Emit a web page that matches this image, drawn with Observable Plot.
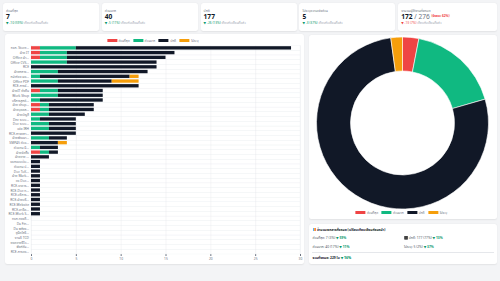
<!DOCTYPE html>
<html><head><meta charset="utf-8">
<script src="https://cdn.jsdelivr.net/npm/d3@7"></script>
<script src="https://cdn.jsdelivr.net/npm/@observablehq/plot@0.6"></script>
<style>
html,body{margin:0;padding:0;}
body{width:500px;height:281px;background:#f3f4f6;position:relative;overflow:hidden;font-family:"Noto Sans","Noto Sans Thai","DejaVu Sans",sans-serif;}
.card{position:absolute;background:#fff;border-radius:2.5px;box-shadow:0 0.5px 1.5px rgba(0,0,0,0.07);}
.kl{position:absolute;left:3px;top:5px;font-size:3.4px;color:#6b7280;white-space:nowrap;}
.kv{position:absolute;left:3px;top:9.5px;font-size:6.6px;font-weight:700;color:#111827;white-space:nowrap;line-height:1.2;}
.ks{position:absolute;left:3px;top:18.3px;font-size:3.2px;color:#059669;white-space:nowrap;}
.ks .g{color:#9ca3af;}
.leg{position:absolute;display:flex;align-items:center;font-size:3.2px;color:#6b7280;white-space:nowrap;transform:translateX(-50%);}
.leg span.sw{display:inline-block;width:10px;height:2.7px;margin-right:1.5px;}
.leg span.t{margin-right:3.5px;}
.sum{position:absolute;font-size:3.3px;color:#4b5563;white-space:nowrap;}
.sum b.d{color:#059669;}
</style></head>
<body>
<div id="root"></div>
<script>
// ---------- data ----------
const cats = ["ด่วนที่สุด", "ด่วนมาก", "ปกติ", "ไม่ระบุ"];
const catColors = ["#ef4444", "#10b981", "#111827", "#f59e0b"];
const names = [
  "หจก. Store...", "ฝ่าย IT", "Office ฝ่า...", "Office CVS...", "RCE",
  "ฝ่ายกลาง...", "หน้าห้อง ผอ...", "Office PDF", "RCE-การจั...", "ฝ่ายIT ยั่งยืน",
  "Work Shop", "บริการลูกค้...", "ฝ่าย shop...", "ฝ่ายบุคคล...", "ฝ่ายบัญชี",
  "Dev ระบบ...", "Doc ระบบ...", "แจ้ง IRH", "RCE-การตลา...", "ฝ่ายพัฒนา...",
  "SMP45 ตัวแ...", "ตัวแทน นิ...", "ฝ่ายจัดซื้อ", "ฝ่ายขาย ...", "ออกแบบเว็บ...",
  "ตัวแทน ป...", "Doc ToK...", "ฝ่าย Mark...", "ขอ Doc...", "RCE-อาคาร...",
  "RCE-Doc ท...", "RCE-บริหาร...", "RCE-ฝ่ายบริ...", "RCE-Website", "RCE-คำอีค...",
  "RCE-Work S...", "หจก.ทองดี...", "Da Fin...", "Da พลังง...", "ยูนิตโลจิ...",
  "งานอิ TCD", "ยอดขายรีวิว...", "ฟังก์ชั่น...", "RCE-การขอ..."
];
const redVals    = [1,1,1,0,0, 0,0,0,0,1, 0,0,1,1,0, 0,0,0,0,0, 0,0,1,0,0, 0,0,0,0,0, 0,0,0,0,0, 0,0,0,0,0, 0,0,0,0];
const greenVals  = [4,3,3,4,0, 3,1,3,0,2, 3,1,1,1,2, 1,2,2,0,2, 0,1,1,0,0, 0,0,0,0,0, 0,0,0,0,0, 0,0,0,0,0, 0,0,0,0];
const blackVals  = [24,12,11,10,14, 10,10,6,12,5, 5,7,5,5,4, 4,3,3,5,2, 3,2,1,2,1, 1,1,1,1,1, 1,1,1,1,1, 1,0,0,0,0, 0,0,0,0];
const orangeVals = [0,0,0,0,0, 0,1,3,0,0, 0,0,0,0,0, 0,0,0,0,0, 1,0,0,0,0, 0,0,0,0,0, 0,0,0,0,0, 0,0,0,0,0, 0,0,0,0];
const xTicks = [0, 5, 10, 15, 20, 25, 30];
const totals = [7, 40, 177, 5];
const totalPct = ["3%", "17%", "77%", "2%"];
const changePct = ["59%", "11%", "13%", "37%"];
const changeAbs = [-10, -5, -26, -3];
const grandTotal = 229, grandChange = "16%";
const users = 172, usersAll = 276, usersPct = "62%", usersChange = "-13 (7%)";
const kpiLabels = ["ด่วนที่สุด", "ด่วนมาก", "ปกติ", "ไม่ระบุความเร่งด่วน", "จำนวนผู้ใช้งานทั้งหมด"];

// ---------- helpers ----------
const root = document.getElementById("root");
function el(tag, cls, style, html) {
  const e = document.createElement(tag);
  if (cls) e.className = cls;
  if (style) e.setAttribute("style", style);
  if (html != null) e.innerHTML = html;
  return e;
}
const FONT = '"Noto Sans","Noto Sans Thai","DejaVu Sans",sans-serif';

// ---------- KPI cards ----------
const cardX = [3, 101.8, 200.6, 299.4, 398.2];
const cardW = [96, 96, 96, 96, 98.8];
for (let i = 0; i < 5; i++) {
  const c = el("div", "card", `left:${cardX[i]}px;top:3px;width:${cardW[i]}px;height:27.5px;`);
  c.appendChild(el("div", "kl", null, kpiLabels[i]));
  if (i < 4) {
    c.appendChild(el("div", "kv", null, String(totals[i])));
    c.appendChild(el("div", "ks", null, `▼ ${changeAbs[i]} (${changePct[i]}) <span class="g">เทียบกับเดือนที่แล้ว</span>`));
  } else {
    c.appendChild(el("div", "kv", null, `${users}<span style="font-weight:400;color:#6b7280"> / ${usersAll}</span> <span style="font-size:3.2px;color:#ef4444;vertical-align:middle">(ร้อยละ ${usersPct})</span>`));
    c.appendChild(el("div", "ks", "color:#ef4444", `▼ ${usersChange} <span class="g">เทียบกับเดือนที่แล้ว</span>`));
  }
  root.appendChild(c);
}

// ---------- left card : stacked bars ----------
const leftCard = el("div", "card", "left:4.5px;top:34px;width:299.5px;height:230px;");
root.appendChild(leftCard);
function legend(x, y) {
  const l = el("div", "leg", `left:${x}px;top:${y}px;`);
  cats.forEach((c, i) => {
    l.appendChild(el("span", "sw", `background:${catColors[i]}`));
    l.appendChild(el("span", "t", null, c));
  });
  return l;
}
root.appendChild(legend(154.5, 38.8));

const series = [redVals, greenVals, blackVals, orangeVals];
const long = [];
cats.forEach((cat, ci) => names.forEach((n, ni) => {
  if (series[ci][ni] > 0) long.push({name: n, cat, value: series[ci][ni]});
}));

const bar = Plot.plot({
  width: 300, height: 218,
  marginLeft: 26, marginRight: 5, marginTop: 1.5, marginBottom: 8,
  style: {fontSize: "3.3px", fontFamily: FONT, color: "#6b7280", background: "transparent", overflow: "visible"},
  x: {domain: [0, 30], ticks: xTicks, tickSize: 2, tickPadding: 1, label: null},
  y: {domain: names, padding: 0, tickSize: 0, tickPadding: 2.5, label: null},
  color: {domain: cats, range: catColors},
  marks: [
    Plot.barX(names, {y: d => d, x1: 0, x2: 30, fill: "none", stroke: "#eef0f3", strokeWidth: 0.35}),
    Plot.ruleX(xTicks, {stroke: "#e5e7eb", strokeWidth: 0.4}),
    Plot.barX(long, Plot.stackX({y: "name", x: "value", fill: "cat", order: cats, insetTop: 0.7, insetBottom: 0.7}))
  ]
});
bar.style.position = "absolute";
bar.style.left = "4.5px";
bar.style.top = "43.5px";
root.appendChild(bar);

// ---------- right card : donut ----------
root.appendChild(el("div", "card", "left:309px;top:35px;width:188px;height:184px;"));
const donutData = cats.map((c, i) => ({cat: c, value: totals[i]}));
const donut = Plot.plot({
  width: 188, height: 176, margin: 0,
  style: {background: "transparent", overflow: "visible"},
  color: {domain: cats, range: catColors},
  marks: [
    (index, scales, values, dims) => {
      const color = (scales && scales.color) ? scales.color : d3.scaleOrdinal(cats, catColors);
      const cx = dims.width / 2 - 0.5, cy = 88;
      const pie = d3.pie().sort(null).value(d => d.value)(donutData);
      const arc = d3.arc().innerRadius(52).outerRadius(86);
      const g = d3.create("svg:g").attr("transform", `translate(${cx},${cy})`);
      g.selectAll("path").data(pie).join("path")
        .attr("d", arc).attr("fill", d => color(d.data.cat))
        .attr("stroke", "#fff").attr("stroke-width", 0.6);
      return g.node();
    }
  ]
});
donut.style.position = "absolute";
donut.style.left = "309px";
donut.style.top = "35px";
root.appendChild(donut);
root.appendChild(legend(403, 210.8));

// ---------- summary card ----------
root.appendChild(el("div", "card", "left:309px;top:223.5px;width:188px;height:40.5px;"));
root.appendChild(el("div", "sum", "left:312.5px;top:227px;font-weight:700;color:#111827",
  `<span style="display:inline-block;width:3px;height:3px;background:linear-gradient(90deg,#60a5fa 33%,#fbbf24 33% 66%,#f87171 66%);vertical-align:-0.3px;margin-right:1.5px"></span>จำนวนเอกสารทั้งหมด (เปรียบเทียบเดือนก่อนหน้า)`));
const pos = [[312.5, 235.2], [312.5, 243.5], [404, 235.2], [404, 243.5]];
const order = [0, 1, 2, 3];
order.forEach((ci, k) => {
  const [x, y] = pos[k];
  const icon = ci === 2 ? "⬛ " : "";
  root.appendChild(el("div", "sum", `left:${x}px;top:${y}px;`,
    `${icon}${cats[ci]}: ${totals[ci]} (${totalPct[ci]}) <b class="d">▼ ${changePct[ci]}</b>`));
});
root.appendChild(el("div", null, "position:absolute;left:312px;top:251.5px;width:182px;height:0;border-top:0.4px solid #e5e7eb;"));
root.appendChild(el("div", "sum", "left:312.5px;top:255px;font-weight:700;color:#111827",
  `รวมทั้งหมด: ${grandTotal} ใบ <b class="d">▼ ${grandChange}</b>`));
</script>
</body></html>
